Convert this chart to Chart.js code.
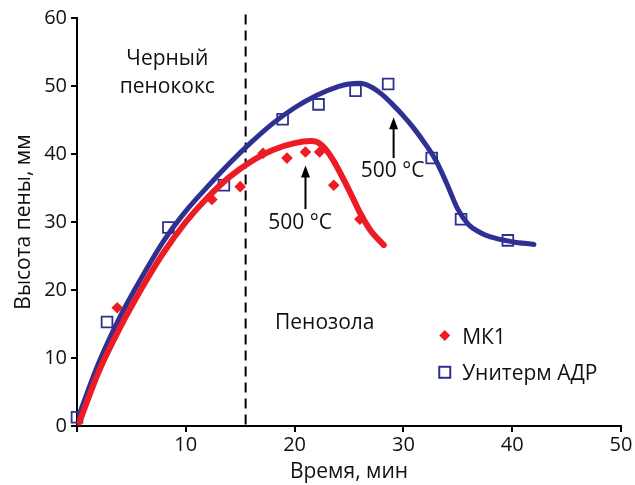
<!DOCTYPE html>
<html><head><meta charset="utf-8">
<script src="https://cdn.jsdelivr.net/npm/chart.js@4.4.0/dist/chart.umd.min.js"></script>
<style>html,body{margin:0;padding:0;background:#fff}#wrap{width:635px;height:485px}</style>
</head><body><div id="wrap"><canvas id="c" width="635" height="485"></canvas></div>
<script>
const xTicks = [0, 10, 20, 30, 40, 50];
const yTicks = [0, 10, 20, 30, 40, 50, 60];
// МК1 measured points
const mk1X = [3.7, 12.4, 15.0, 17.1, 19.3, 21.0, 22.3, 23.6, 26.0];
const mk1Y = [17.4, 33.3, 35.2, 40.1, 39.4, 40.3, 40.3, 35.4, 30.4];
// МК1 fitted curve
const mk1CurveX = [0.2, 2, 4, 6, 8, 10, 12, 14, 16, 18, 20, 21.5, 22, 22.5, 23, 23.5, 24, 25, 26, 27, 28.2];
const mk1CurveY = [0.5, 8.0, 14.6, 20.4, 25.6, 30.0, 33.6, 36.6, 38.9, 40.6, 41.6, 41.9, 41.8, 41.3, 40.4, 39.2, 37.8, 34.7, 31.4, 28.7, 26.6];
// Унитерм АДР measured points
const adrX = [0.0, 2.76, 8.4, 13.5, 18.9, 22.2, 25.6, 28.6, 32.6, 35.3, 39.6];
const adrY = [1.3, 15.3, 29.2, 35.4, 45.1, 47.3, 49.3, 50.3, 39.4, 30.4, 27.3];
// Унитерм АДР fitted curve
const adrCurveX = [0, 2, 4, 6, 8, 10, 12, 14, 16, 18, 20, 22, 24, 25, 26, 27, 28, 29, 30, 31, 32, 33, 34, 35, 36, 37, 38, 40, 42];
const adrCurveY = [0.8, 9.3, 16.2, 22.0, 27.3, 31.6, 35.2, 38.6, 41.7, 44.5, 46.8, 48.6, 49.9, 50.3, 50.4, 49.9, 48.8, 47.3, 45.6, 43.7, 41.5, 39.0, 35.6, 31.9, 29.6, 28.5, 27.8, 27.1, 26.7];
const divideX = 15.5;

const RED = '#ed1c24', BLUE = '#2e3192';
const FONT = '"Open Sans", "Noto Sans", sans-serif';
const zip = (xs, ys) => xs.map((x, i) => ({x, y: ys[i]}));

const overlay = {
  id: 'overlay',
  beforeDatasetsDraw(chart) {
    const {ctx, scales: {x, y}} = chart;
    ctx.save();
    ctx.strokeStyle = '#000'; ctx.lineWidth = 2; ctx.setLineDash([10, 6]);
    const px = x.getPixelForValue(divideX);
    ctx.beginPath(); ctx.moveTo(px, y.getPixelForValue(60.5)); ctx.lineTo(px, y.getPixelForValue(0)); ctx.stroke();
    ctx.restore();
  },
  afterDatasetsDraw(chart) {
    const {ctx, scales: {x, y}} = chart;
    ctx.save();
    ctx.fillStyle = '#111'; ctx.font = '21px ' + FONT; ctx.textBaseline = 'middle';
    ctx.textAlign = 'center';
    ctx.fillText('Черный', x.getPixelForValue(8.3), y.getPixelForValue(53.9));
    ctx.fillText('пенококс', x.getPixelForValue(8.3), y.getPixelForValue(49.8));
    ctx.fillText('500 °C', x.getPixelForValue(20.5), y.getPixelForValue(29.8));
    ctx.fillText('500 °C', x.getPixelForValue(29.0), y.getPixelForValue(37.5));
    ctx.textAlign = 'left';
    ctx.fillText('Пенозола', x.getPixelForValue(18.2), y.getPixelForValue(15.2));
    ctx.fillText('МК1', x.getPixelForValue(35.4), y.getPixelForValue(13.0));
    ctx.fillText('Унитерм АДР', x.getPixelForValue(35.4), y.getPixelForValue(7.7));
    // arrows
    const arrow = (xv, y0, y1) => {
      const ax = x.getPixelForValue(xv), ab = y.getPixelForValue(y0), at = y.getPixelForValue(y1);
      ctx.strokeStyle = '#000'; ctx.lineWidth = 2;
      ctx.beginPath(); ctx.moveTo(ax, ab); ctx.lineTo(ax, at + 8); ctx.stroke();
      ctx.fillStyle = '#000';
      ctx.beginPath(); ctx.moveTo(ax, at); ctx.lineTo(ax - 4.5, at + 12); ctx.lineTo(ax + 4.5, at + 12); ctx.closePath(); ctx.fill();
    };
    arrow(21.0, 31.9, 38.3);
    arrow(29.1, 39.4, 45.4);
    // legend markers
    const lx = x.getPixelForValue(33.8);
    let ly = y.getPixelForValue(13.3);
    ctx.fillStyle = RED;
    ctx.beginPath(); ctx.moveTo(lx, ly - 5.5); ctx.lineTo(lx + 5.5, ly); ctx.lineTo(lx, ly + 5.5); ctx.lineTo(lx - 5.5, ly); ctx.closePath(); ctx.fill();
    ly = y.getPixelForValue(7.9);
    ctx.strokeStyle = BLUE; ctx.lineWidth = 2;
    ctx.strokeRect(lx - 5.5, ly - 5.5, 11, 11);
    ctx.restore();
  }
};

new Chart(document.getElementById('c'), {
  type: 'scatter',
  data: {
    datasets: [
      {label: 'МК1', data: zip(mk1X, mk1Y), order: 0, clip: false, pointStyle: 'rectRot', pointRadius: 5.8, backgroundColor: RED, borderColor: RED, borderWidth: 0, showLine: false},
      {label: 'МК1 curve', data: zip(mk1CurveX, mk1CurveY), order: 1, showLine: true, pointRadius: 0, borderColor: RED, borderWidth: 6, cubicInterpolationMode: 'monotone', borderCapStyle: 'round'},
      {label: 'Унитерм АДР', data: zip(adrX, adrY), order: 2, clip: false, pointStyle: 'rect', pointRadius: 7.6, backgroundColor: 'rgba(0,0,0,0)', borderColor: BLUE, borderWidth: 1.8, showLine: false},
      {label: 'АДР curve', data: zip(adrCurveX, adrCurveY), order: 3, showLine: true, pointRadius: 0, borderColor: BLUE, borderWidth: 5, cubicInterpolationMode: 'monotone', borderCapStyle: 'round'}
    ]
  },
  options: {
    responsive: false, animation: false,
    layout: {padding: {left: 0, right: 14, top: 18, bottom: 0}},
    plugins: {legend: {display: false}, tooltip: {enabled: false}},
    scales: {
      x: {
        type: 'linear', min: 0, max: 50,
        afterBuildTicks: s => { s.ticks = xTicks.map(v => ({value: v})); },
        afterFit: s => { s.height = 59; },
        border: {display: true, color: '#000', width: 2},
        grid: {drawOnChartArea: false, color: '#000', lineWidth: 2, tickLength: 6},
        ticks: {color: '#111', font: {size: 20, family: FONT}, padding: 1, callback: v => v === 0 ? '' : v, maxRotation: 0},
        title: {display: true, text: 'Время, мин', color: '#111', font: {size: 21, family: FONT}, padding: {top: 0, bottom: 0}}
      },
      y: {
        type: 'linear', min: 0, max: 60,
        afterBuildTicks: s => { s.ticks = yTicks.map(v => ({value: v})); },
        afterFit: s => { s.width = 77; },
        border: {display: true, color: '#000', width: 2},
        grid: {drawOnChartArea: false, color: '#000', lineWidth: 2, tickLength: 6},
        ticks: {color: '#111', font: {size: 20, family: FONT}, padding: 4},
        title: {display: true, text: 'Высота пены, мм', color: '#111', font: {size: 21, family: FONT}, padding: {top: 11, bottom: 0}}
      }
    }
  },
  plugins: [overlay]
});
</script></body></html>
